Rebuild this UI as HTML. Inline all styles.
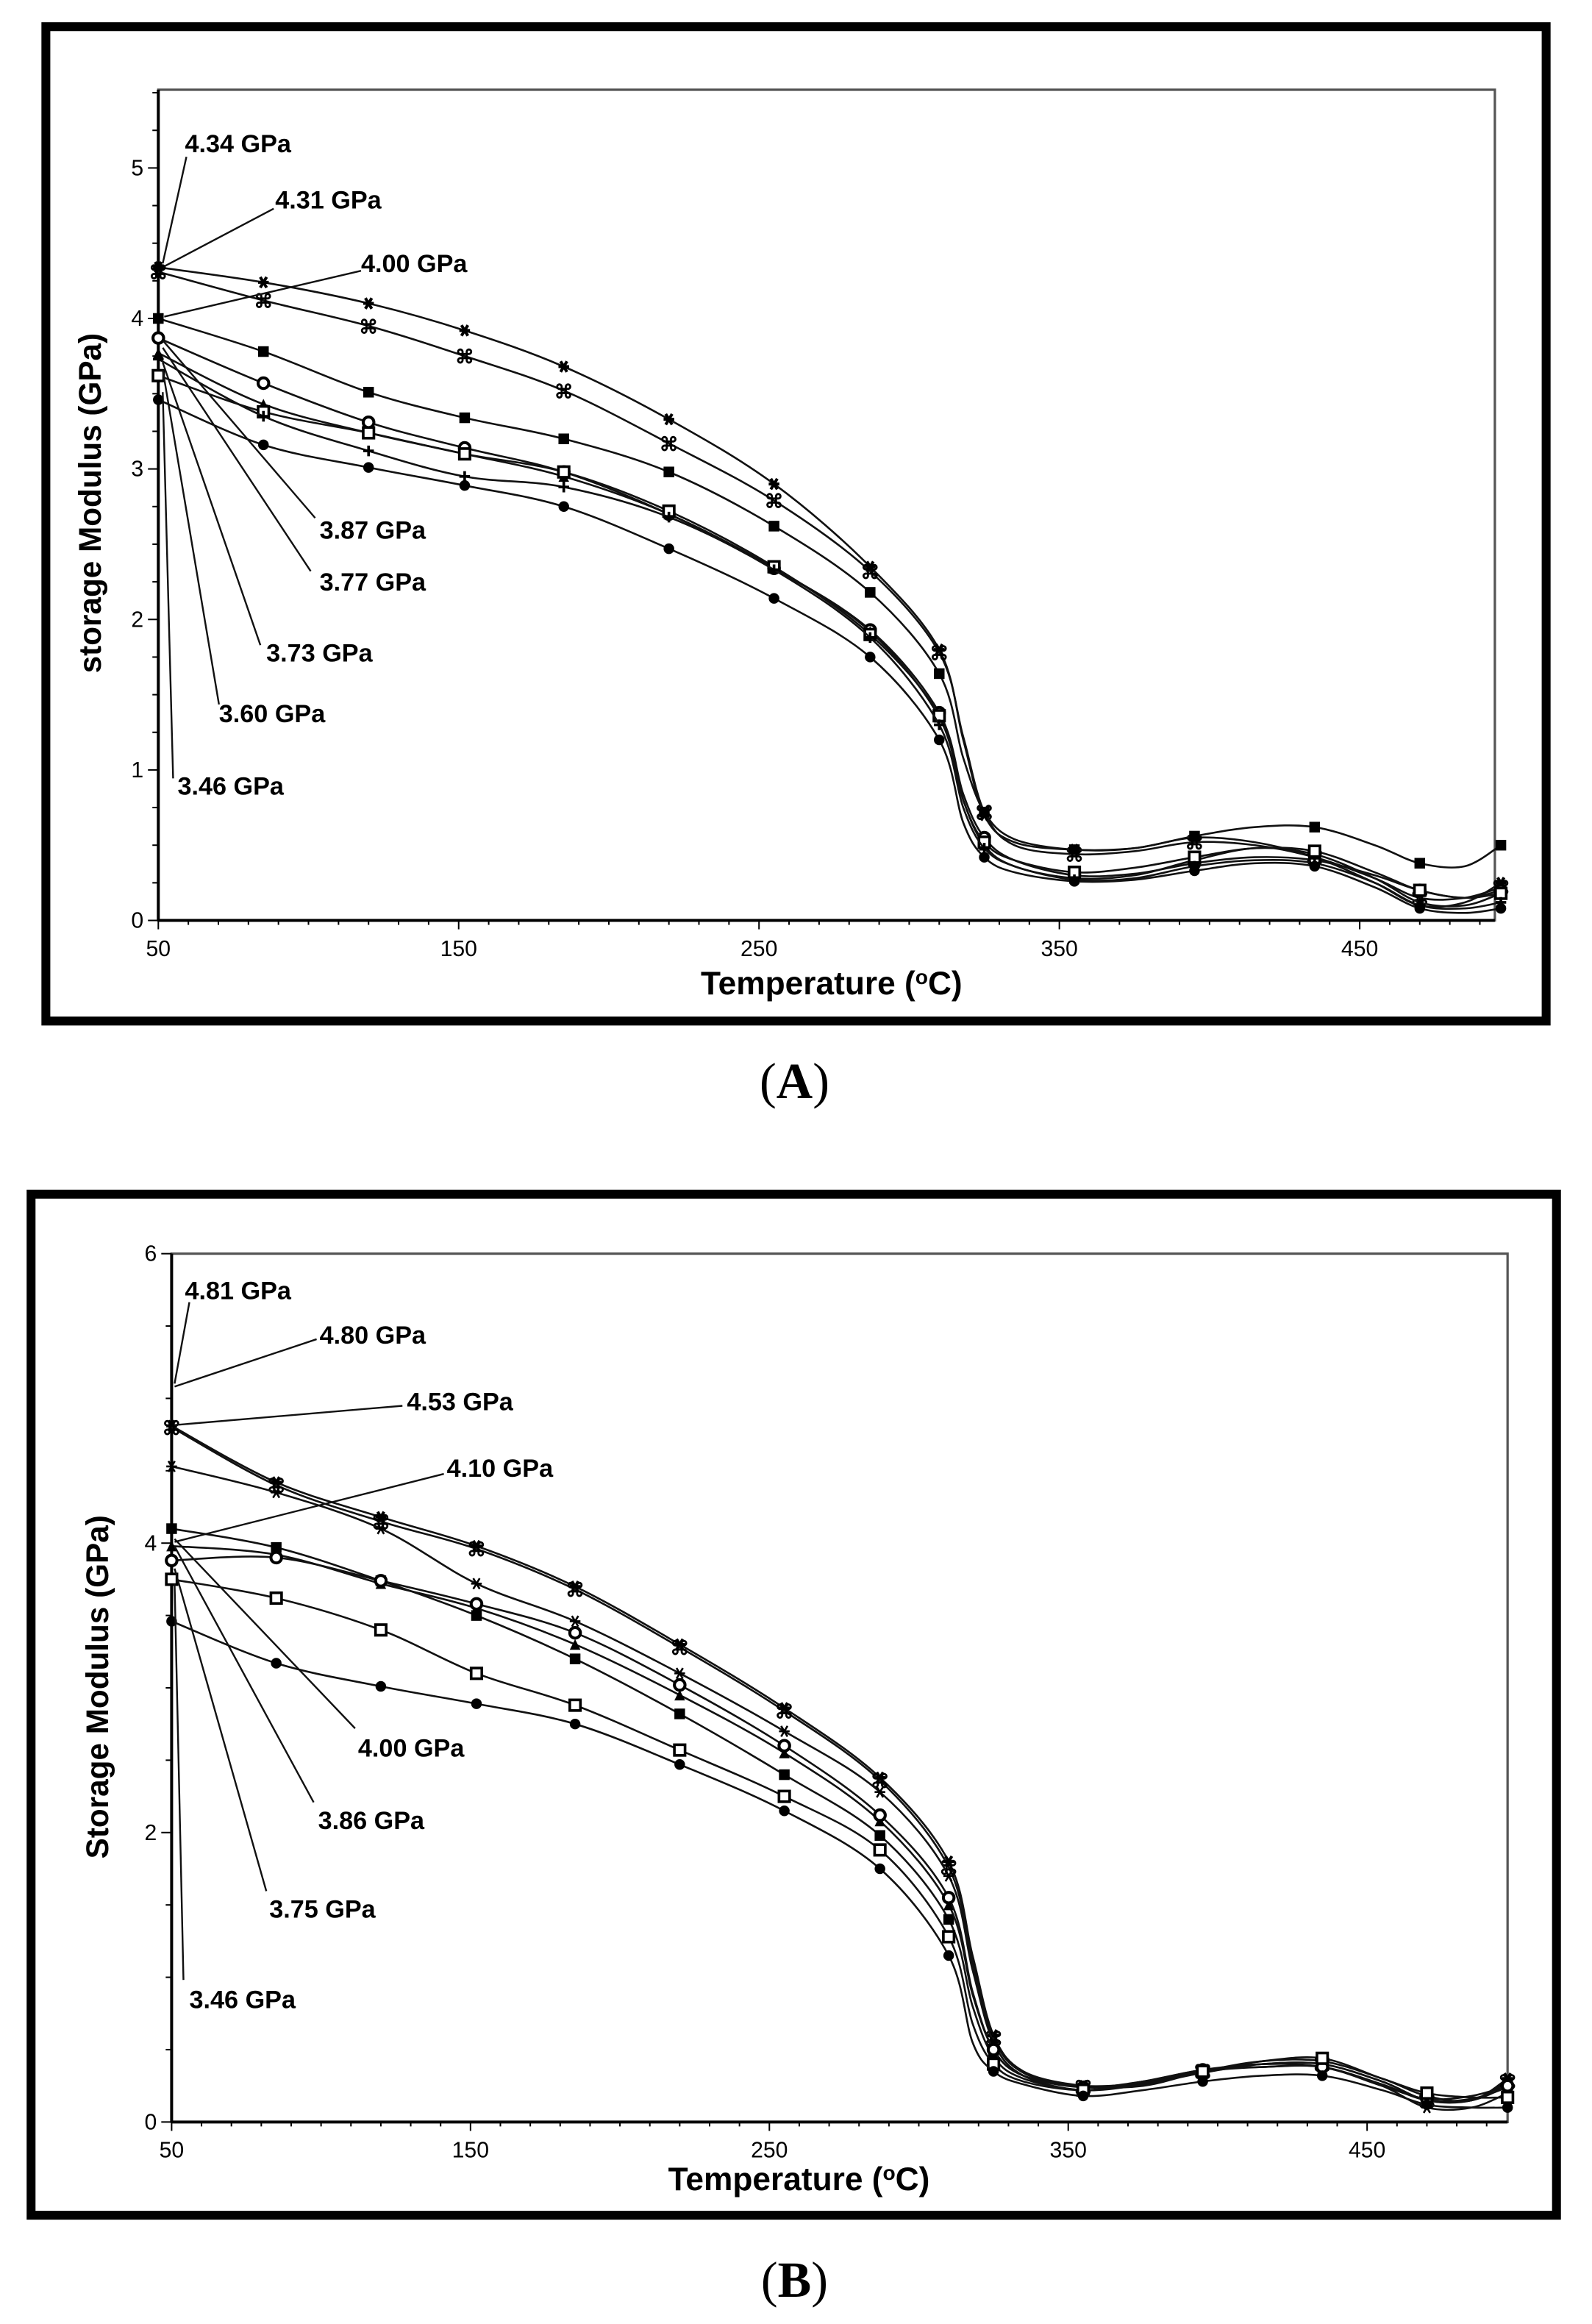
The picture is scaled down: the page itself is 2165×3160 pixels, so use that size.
<!DOCTYPE html>
<html><head><meta charset="utf-8"><style>
html,body{margin:0;padding:0;background:#fff}
svg{display:block}
text{font-family:"Liberation Sans",Arial,sans-serif}
</style></head><body>
<svg id="fig" width="2165" height="3160" viewBox="0 0 1076 1570.5" xmlns="http://www.w3.org/2000/svg">
<rect x="0" y="0" width="1076" height="1570.5" fill="#fff"/>
<g id="panelA"></g>
<g id="panelB"></g>
<text x="537" y="742" text-anchor="middle" font-size="34" style="font-family:'Liberation Serif',serif">(<tspan font-weight="bold">A</tspan>)</text>
<text x="537" y="1552" text-anchor="middle" font-size="34" style="font-family:'Liberation Serif',serif">(<tspan font-weight="bold">B</tspan>)</text>
</svg>
<script>
const temps = [50,85,120,152,185,220,255,287,310,318,325,335,355,375,395,415,435,455,470,485,497];
const xTicks = [50,150,250,350,450];
const yTicksA = [0,1,2,3,4,5];
const yTicksB = [0,2,4,6];
const markersA = ['star','cmd','fsq','ocirc','tri','osq','plus','fcirc'];
const markersB = ['star','cmd','ostar','fsq','tri','ocirc','osq','fcirc'];
const a1 = [4.34,4.24,4.10,3.92,3.68,3.33,2.90,2.35,1.80,1.20,0.70,0.52,0.47,0.48,0.55,0.52,0.42,0.25,0.10,0.12,0.25];
const a2 = [4.31,4.12,3.95,3.75,3.52,3.17,2.79,2.32,1.78,1.22,0.72,0.50,0.44,0.46,0.52,0.50,0.42,0.28,0.15,0.15,0.22];
const a3 = [4.00,3.78,3.51,3.34,3.20,2.98,2.62,2.18,1.64,1.08,0.72,0.54,0.47,0.48,0.56,0.62,0.62,0.50,0.38,0.36,0.50];
const a4 = [3.87,3.57,3.31,3.14,2.98,2.70,2.34,1.93,1.38,0.84,0.55,0.40,0.30,0.31,0.38,0.42,0.40,0.30,0.20,0.15,0.20];
const a5 = [3.77,3.43,3.24,3.10,2.95,2.70,2.34,1.92,1.35,0.80,0.50,0.36,0.28,0.30,0.40,0.48,0.44,0.28,0.12,0.10,0.18];
const a6 = [3.62,3.38,3.24,3.10,2.98,2.72,2.35,1.90,1.36,0.80,0.52,0.40,0.32,0.35,0.42,0.48,0.46,0.32,0.20,0.15,0.18];
const a7 = [3.73,3.35,3.12,2.95,2.88,2.68,2.33,1.88,1.30,0.75,0.48,0.36,0.27,0.28,0.36,0.40,0.38,0.25,0.10,0.08,0.12];
const a8 = [3.46,3.16,3.01,2.89,2.75,2.47,2.14,1.75,1.20,0.65,0.42,0.32,0.26,0.27,0.33,0.38,0.36,0.22,0.08,0.05,0.08];
const b1 = [4.81,4.42,4.18,3.98,3.70,3.30,2.86,2.38,1.80,1.15,0.60,0.35,0.25,0.25,0.35,0.42,0.42,0.30,0.18,0.15,0.30];
const b2 = [4.80,4.40,4.15,3.96,3.68,3.28,2.84,2.36,1.76,1.10,0.58,0.34,0.24,0.27,0.35,0.40,0.40,0.28,0.15,0.15,0.28];
const b3 = [4.53,4.35,4.10,3.72,3.46,3.10,2.70,2.28,1.70,1.05,0.55,0.32,0.22,0.28,0.36,0.40,0.38,0.25,0.10,0.10,0.20];
const b4 = [4.10,3.97,3.74,3.50,3.20,2.82,2.40,1.98,1.40,0.80,0.45,0.30,0.22,0.26,0.34,0.40,0.40,0.28,0.15,0.15,0.25];
const b5 = [3.98,3.92,3.72,3.55,3.30,2.95,2.55,2.08,1.50,0.88,0.50,0.32,0.25,0.27,0.35,0.38,0.38,0.26,0.15,0.16,0.24];
const b6 = [3.88,3.90,3.74,3.58,3.38,3.02,2.60,2.12,1.55,0.90,0.50,0.32,0.24,0.28,0.36,0.38,0.38,0.25,0.16,0.18,0.25];
const b7 = [3.75,3.62,3.40,3.10,2.88,2.57,2.25,1.88,1.28,0.68,0.40,0.28,0.22,0.28,0.35,0.42,0.44,0.30,0.20,0.17,0.17];
const b8 = [3.46,3.17,3.01,2.89,2.75,2.47,2.15,1.75,1.15,0.55,0.35,0.26,0.18,0.22,0.28,0.32,0.32,0.22,0.12,0.10,0.10];
const labelsA = ['4.34 GPa','4.31 GPa','4.00 GPa','3.87 GPa','3.77 GPa','3.73 GPa','3.60 GPa','3.46 GPa'];
const labelsB = ['4.81 GPa','4.80 GPa','4.53 GPa','4.10 GPa','4.00 GPa','3.86 GPa','3.75 GPa','3.46 GPa'];

const NS='http://www.w3.org/2000/svg';
function mk(tag,attrs,parent){const e=document.createElementNS(NS,tag);for(const k in attrs)e.setAttribute(k,attrs[k]);parent.appendChild(e);return e;}

function drawPanel(g,cfg){
  const sx=t=>cfg.x0+(t-50)*(cfg.x1-cfg.x0)/400;
  const sy=v=>cfg.y0-v*cfg.py;
  const frame=mk('rect',{x:cfg.fx,y:cfg.fy,width:cfg.fw,height:cfg.fh,fill:'none',stroke:'#000','stroke-width':6},g);
  
  
  const right=sx(cfg.tmax), top=sy(cfg.vmax);
  const box=mk('path',{d:`M${cfg.x0},${top}H${right}V${cfg.y0}H${cfg.x0}Z`,fill:'none',stroke:'#555','stroke-width':1.6},g);
  
  
  mk('line',{x1:cfg.x0,y1:top,x2:cfg.x0,y2:cfg.y0,stroke:'#000','stroke-width':2},g);
  mk('line',{x1:cfg.x0,y1:cfg.y0,x2:right,y2:cfg.y0,stroke:'#000','stroke-width':2},g);
  for(let t=50;t<=cfg.tmax;t+=10){
    mk('line',{x1:sx(t),y1:cfg.y0,x2:sx(t),y2:cfg.y0+((t-50)%100===0?6:3),stroke:'#000','stroke-width':1},g);
  }
  xTicks.forEach(t=>{
    const tx=mk('text',{x:sx(t),y:cfg.y0+24,'text-anchor':'middle','font-size':15},g);
    tx.textContent=t;
    
    
  });
  for(let v=0;v<=cfg.vmax+1e-6;v+=cfg.minor){
    mk('line',{x1:cfg.x0-(Math.abs(v-Math.round(v/cfg.major)*cfg.major)<1e-6?7:4),y1:sy(v),x2:cfg.x0,y2:sy(v),stroke:'#000','stroke-width':1},g);
  }
  cfg.yt.forEach(v=>{
    const ty=mk('text',{x:cfg.x0-10,y:sy(v)+5,'text-anchor':'end','font-size':15},g);
    ty.textContent=v;
    
    
  });
  const xt=mk('text',{x:cfg.xtx,y:cfg.xty,'text-anchor':'middle','font-size':22,'font-weight':'bold'},g);
  xt.innerHTML='Temperature (<tspan font-size="14" dy="-7">o</tspan><tspan dy="7">C)</tspan>';
  
  
  const yt=mk('text',{x:0,y:0,'text-anchor':'middle','font-size':21,'font-weight':'bold',transform:`translate(${cfg.ytx},${cfg.yty}) rotate(-90)`},g);
  yt.textContent=cfg.ytitle;
  
  

  cfg.series.forEach((vals,si)=>{
    const pts=temps.map((t,i)=>[sx(t),sy(vals[i])]);
    let d=`M${pts[0][0]},${pts[0][1]}`;
    for(let i=0;i<pts.length-1;i++){
      const p0=pts[Math.max(0,i-1)],p1=pts[i],p2=pts[i+1],p3=pts[Math.min(pts.length-1,i+2)];
      const c1=[p1[0]+(p2[0]-p0[0])/6,p1[1]+(p2[1]-p0[1])/6];
      const c2=[p2[0]-(p3[0]-p1[0])/6,p2[1]-(p3[1]-p1[1])/6];
      d+=`C${c1[0]},${c1[1]} ${c2[0]},${c2[1]} ${p2[0]},${p2[1]}`;
    }
    const line=mk('path',{d:d,fill:'none',stroke:'#111','stroke-width':1.3},g);
    
    
    const type=cfg.markers[si];
    pts.forEach((p,i)=>{
      if(i>=8 && i%2===1) return;
      const mg=mk('g',{transform:`translate(${p[0]},${p[1]})`},g);
      
      
      drawMarker(mg,type);
    });
  });

  cfg.labels.forEach((lab,i)=>{
    const L=cfg.ann[i];
    const ln=mk('line',{x1:L[0],y1:L[1],x2:L[2],y2:L[3],stroke:'#111','stroke-width':1.2},g);
    
    
    const tx=mk('text',{x:L[4],y:L[5],'font-size':17,'font-weight':'bold'},g);
    tx.textContent=lab;
    
    
  });
}
function drawMarker(g,type){
  const s=3.6;
  if(type==='fsq') mk('rect',{x:-s,y:-s,width:2*s,height:2*s,fill:'#000'},g);
  else if(type==='osq') mk('rect',{x:-s,y:-s,width:2*s,height:2*s,fill:'#fff',stroke:'#000','stroke-width':1.8},g);
  else if(type==='fcirc') mk('circle',{r:s,fill:'#000'},g);
  else if(type==='ocirc') mk('circle',{r:s,fill:'#fff',stroke:'#000','stroke-width':2},g);
  else if(type==='plus') mk('path',{d:`M${-s},0H${s}M0,${-s}V${s}`,stroke:'#000','stroke-width':1.8},g);
  else if(type==='tri') mk('path',{d:`M0,${-s}L${s},${s}L${-s},${s}Z`,fill:'#000'},g);
  else if(type==='star'||type==='ostar') mk('path',{d:`M${-s},0H${s}M${-s*0.6},${-s}L${s*0.6},${s}M${s*0.6},${-s}L${-s*0.6},${s}`,stroke:'#000','stroke-width':type==='star'?2:1.3},g);
  else if(type==='cmd'){const t=mk('text',{x:0,y:5,'text-anchor':'middle','font-size':13,'font-weight':'bold'},g);t.textContent='⌘';}
}
drawPanel(document.getElementById('panelA'),{
  fx:31,fy:18,fw:1014,fh:672,x0:107,x1:919,y0:622,py:101.7,vmax:5.52,tmax:495,minor:0.25,major:1,yt:yTicksA,
  series:[a1,a2,a3,a4,a5,a6,a7,a8],markers:markersA,labels:labelsA,
  xtx:562,xty:672,ytx:68,yty:340,ytitle:'storage Modulus (GPa)',
  ann:[[110,178,126,106,125,103],[111,180,185,141,186,141],[111,214,244,183,244,184],[110,230,213,350,216,364],[110,235,210,386,216,399],[110,245,176,436,180,447],[110,250,148,476,148,488],[110,265,117,526,120,537]]
});
drawPanel(document.getElementById('panelB'),{
  fx:21,fy:807,fw:1031,fh:690,x0:116,x1:924,y0:1434,py:97.8,vmax:6,tmax:497,minor:0.5,major:2,yt:yTicksB,
  series:[b1,b2,b3,b4,b5,b6,b7,b8],markers:markersB,labels:labelsB,
  xtx:540,xty:1480,ytx:73,yty:1140,ytitle:'Storage Modulus (GPa)',
  ann:[[118,935,128,880,125,878],[118,937,214,905,216,908],[118,963,272,950,275,953],[118,1042,300,996,302,998],[118,1040,240,1168,242,1187],[118,1045,212,1218,215,1236],[118,1060,180,1278,182,1296],[118,1070,124,1338,128,1357]]
});
</script>
</body></html>
